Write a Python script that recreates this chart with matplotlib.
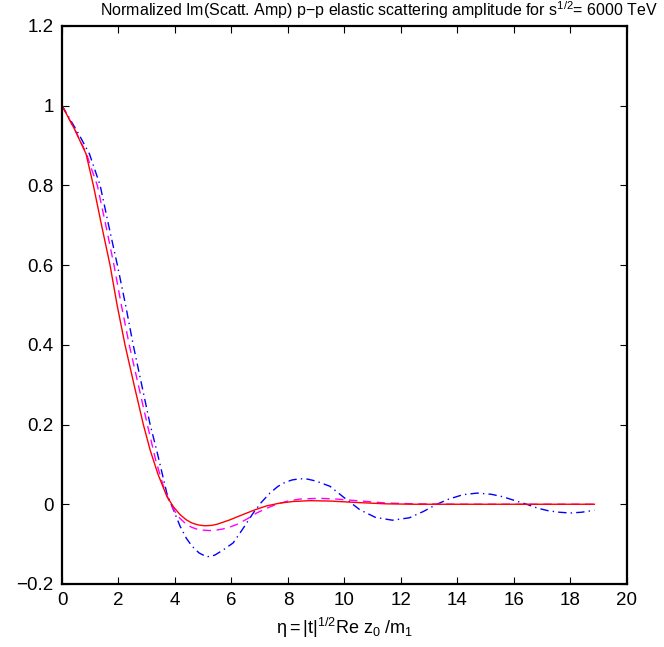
import matplotlib
matplotlib.use('Agg')
import matplotlib.pyplot as plt

plt.rcParams['font.family'] = ['Liberation Sans', 'DejaVu Sans']
plt.rcParams['mathtext.fontset'] = 'custom'
plt.rcParams['mathtext.rm'] = 'Liberation Sans'
plt.rcParams['mathtext.it'] = 'Liberation Sans:italic'

# values
x_red = [0, 0.45, 0.85, 1.11, 1.40, 1.70, 1.95, 2.23, 2.55, 2.88, 3.12, 3.40, 3.71,
         3.95, 4.18, 4.4, 4.6, 4.83, 5.06, 5.3, 5.5, 5.95, 6.4, 6.83, 7.25, 7.72, 8.2,
         8.78, 9.5, 10.55, 11.5, 12.5, 14, 16, 18.85]
y_red = [1, 0.94, 0.879, 0.80, 0.70, 0.60, 0.50, 0.40, 0.30, 0.20, 0.136, 0.075, 0.02,
         -0.007, -0.026, -0.039, -0.047, -0.052, -0.054, -0.053, -0.050, -0.039, -0.026, -0.014, -0.004, 0.003, 0.007,
         0.009, 0.008, 0.004, 0.001, 0.0, 0, 0, 0]

x_mag = [0, 0.45, 0.87, 1.02, 1.25, 1.55, 1.84, 2.1, 2.38, 2.7, 3.02, 3.32, 3.57, 3.82,
         4.1, 4.41, 4.6, 4.8, 5.0, 5.24, 5.45, 5.7, 5.95, 6.18, 6.55, 6.89, 7.25, 7.6, 8.0,
         8.42, 9.1, 9.72, 10.43, 11.5, 12.5, 14, 16, 18.85]
y_mag = [1, 0.94, 0.879, 0.846, 0.80, 0.70, 0.60, 0.50, 0.40, 0.30, 0.20, 0.11, 0.05, 0.003,
         -0.03, -0.051, -0.058, -0.063, -0.065, -0.066, -0.065, -0.062, -0.057, -0.051, -0.037, -0.022, -0.01, 0.0, 0.008,
         0.013, 0.015, 0.013, 0.009, 0.003, 0.001, 0, 0, 0]

x_blue = [0, 0.58, 0.97, 1.35, 1.65, 1.96, 2.25, 2.52, 2.82, 3.12, 3.35, 3.71, 3.95, 4.18,
          4.4, 4.6, 4.85, 5.12, 5.4, 5.7, 6.06, 6.4, 6.77, 7.05, 7.36, 7.65, 7.9, 8.15, 8.42,
          8.7, 9.0, 9.49, 10.0, 10.55, 11.1, 11.7, 12.3, 12.8, 13.27, 13.7, 14.2, 14.7, 15.2,
          15.6, 16.0, 16.45, 16.85, 17.2, 17.6, 18.0, 18.4, 18.85]
y_blue = [1, 0.93, 0.879, 0.80, 0.70, 0.60, 0.50, 0.40, 0.30, 0.20, 0.136, 0.028, -0.015, -0.055,
          -0.085, -0.105, -0.122, -0.132, -0.128, -0.115, -0.097, -0.062, -0.022, 0.004, 0.028, 0.045, 0.055, 0.061, 0.064,
          0.063, 0.058, 0.045, 0.016, -0.014, -0.033, -0.04, -0.034, -0.018, 0.0, 0.013, 0.024, 0.028, 0.025,
          0.019, 0.01, 0.0, -0.01, -0.016, -0.02, -0.022, -0.02, -0.015]

x_ticks = [0, 2, 4, 6, 8, 10, 12, 14, 16, 18, 20]
y_ticks = [-0.2, 0, 0.2, 0.4, 0.6, 0.8, 1, 1.2]
y_ticklabels = ['\u22120.2', '0', '0.2', '0.4', '0.6', '0.8', '1', '1.2']

fig = plt.figure(figsize=(6.64, 6.47), dpi=100)
ax = fig.add_axes([0.0934, 0.0974, 0.8506, 0.8626])

ax.plot(x_blue, y_blue, color='#0000ff', lw=1, ls=(0, (6, 3, 1, 3)))
ax.plot(x_mag, y_mag, color='#ff00ff', lw=1, ls=(0, (6, 4)))
ax.plot(x_red, y_red, color='#ff0000', lw=1)

ax.set_xlim(0, 20)
ax.set_ylim(-0.2, 1.2)
ax.set_xticks(x_ticks)
ax.set_yticks(y_ticks)
ax.set_yticklabels(y_ticklabels)
ax.tick_params(direction='in', top=True, right=True, length=5, width=0.8,
               labelsize=13.5, pad=6)
for s in ax.spines.values():
    s.set_linewidth(1.6)

ax.set_xlabel(r'$\mathrm{\eta= |t|^{1/2}Re\ z_{0}\ /m_{1}}$', fontsize=13, labelpad=5)
fig.text(0.571, 0.984, r'Normalized Im(Scatt. Amp) p$-$p elastic scattering amplitude for s$^{\mathrm{1/2}}$= 6000 TeV',
         ha='center', va='center', fontsize=11.5)

fig.savefig('out.png', dpi=100)
